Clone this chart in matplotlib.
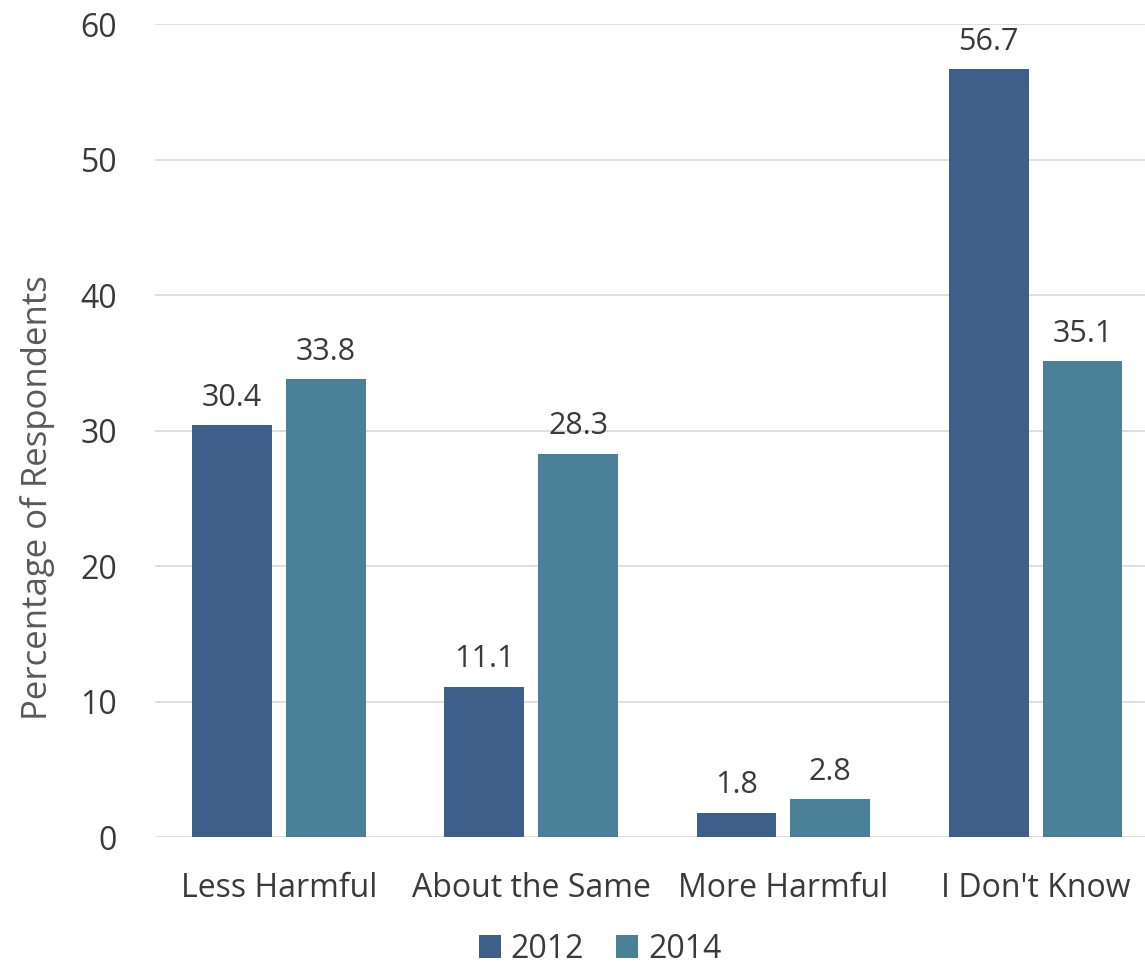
import matplotlib
matplotlib.use('Agg')
import matplotlib.pyplot as plt
import numpy as np

plt.rcParams['font.family'] = ['Open Sans', 'DejaVu Sans']

categories = ['Less Harmful', 'About the Same', 'More Harmful', "I Don't Know"]
years      = ['2012', '2014']
values_2012 = [30.4, 11.1, 1.8, 56.7]
values_2014 = [33.8, 28.3, 2.8, 35.1]
colors     = ['#3E5F8A', '#4A8199']

TEXT_COLOR = '#3A3A3A'
FS = 23

fig = plt.figure(figsize=(11.45, 9.66), dpi=100)
ax = fig.add_axes([0.135, 0.1335, 0.865, 0.8415])

x = np.arange(len(categories))
width = 0.317
offset = 0.186

for vals, off, col, yr in [(values_2012, -offset, colors[0], years[0]),
                           (values_2014, offset, colors[1], years[1])]:
    bars = ax.bar(x + off, vals, width, color=col, label=yr, zorder=3)
    for bar, v in zip(bars, vals):
        ax.text(bar.get_x() + bar.get_width() / 2, v + 0.9, f'{v:.1f}',
                ha='center', va='bottom', fontsize=FS - 1, color=TEXT_COLOR)

ax.set_ylim(0, 60)
ax.set_xlim(-0.494, 3.434)
ax.set_yticks(range(0, 61, 10))
ax.set_xticks(x)
ax.set_xticklabels(categories)
ax.tick_params(axis='both', length=0, labelsize=FS, colors=TEXT_COLOR)
ax.tick_params(axis='y', pad=27)
ax.tick_params(axis='x', pad=25)
ax.yaxis.grid(True, color='#D9D9D9', linewidth=1.2, zorder=0)
for s in ax.spines.values():
    s.set_visible(False)

ax.set_ylabel('Percentage of Respondents', fontsize=25, color='#595959')
ax.yaxis.set_label_coords(-0.101, 0.417)

fig.legend(*ax.get_legend_handles_labels(), loc='center',
           bbox_to_anchor=(0.524, 0.0175), ncol=2,
           frameon=False, fontsize=FS, handlelength=0.7, handleheight=0.7,
           handletextpad=0.3, columnspacing=1.0, labelcolor=TEXT_COLOR,
           borderpad=0)

plt.savefig('out.png', dpi=100)
plt.close()
